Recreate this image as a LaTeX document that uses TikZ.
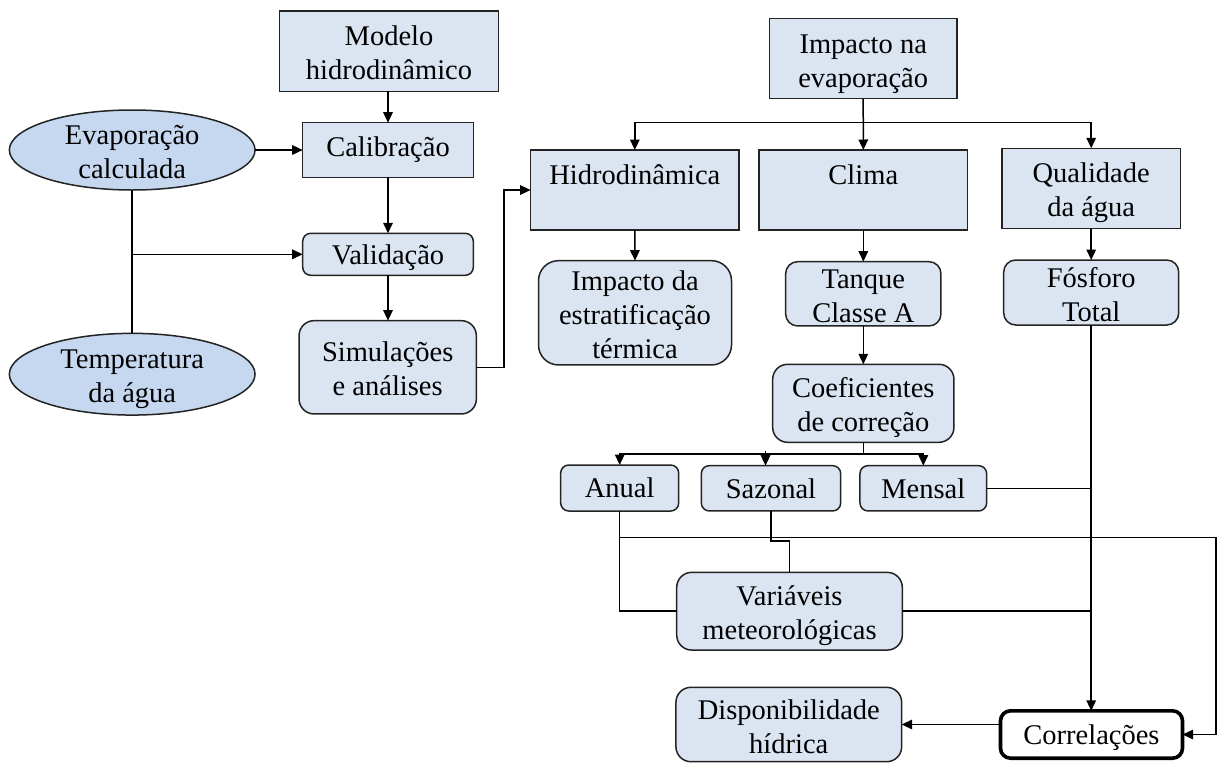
\documentclass[tikz,border=0pt]{standalone}
\usepackage{fontspec}
\setmainfont{Liberation Serif}
\usetikzlibrary{arrows.meta,shapes.geometric}
\definecolor{boxfill}{RGB}{219,228,241}
\definecolor{ellfill}{RGB}{198,216,240}
\definecolor{edgecol}{RGB}{35,35,35}
\newcommand\lnstrut{\rule[-10.2pt]{0pt}{34pt}}
\newcommand\onestrut{\rule[-10.2pt]{0pt}{40pt}}
\newcommand\firststrut{\rule[-10.2pt]{0pt}{43.4pt}}
\begin{document}
\begin{tikzpicture}[x=1pt,y=-1pt,
  every node/.style={font=\fontsize{28.5}{34}\selectfont, inner sep=0pt, outer sep=0pt},
  sqbox/.style={draw=edgecol, line width=1.5pt, fill=boxfill, rectangle},
  rbox/.style={sqbox, rounded corners=#1},
  rbox/.default=10pt,
  ellbox/.style={draw=edgecol, line width=1.5pt, fill=ellfill, ellipse},
  corrbox/.style={draw=black, line width=3.6pt, fill=white, rounded corners=10pt},
  txt/.style={align=center},
  conn/.style={draw=black, line width=1.5pt},
  arr/.style={conn, -{Triangle[length=10.5pt,width=9.5pt]}},
]
\useasboundingbox (0,0) rectangle (1217,763);

% left column
\node[sqbox, minimum width=219.4pt, minimum height=80.3pt] (modelo) at (389,51.2) {};
\node[txt] (modeloT) at (modelo.center) {\firststrut Modelo\\hidrodinâmico\lnstrut};
\node[sqbox, minimum width=170.6pt, minimum height=54.6pt] (calib) at (388,150) {\lnstrut Calibração};
\node[rbox=8pt, minimum width=170.6pt, minimum height=42pt] (valid) at (388,254.3) {\onestrut Validação};
\node[rbox=15pt, minimum width=177.3pt, minimum height=93.3pt] (simul) at (387.7,367.3) {};
\node[txt] (simulT) at (simul.center) {\firststrut Simulações\\e análises\lnstrut};
\node[ellbox, minimum width=245.7pt, minimum height=80pt] (evap) at (132.2,150) {};
\node[txt] (evapT) at (evap.center) {\firststrut Evaporação\\calculada\lnstrut};
\node[ellbox, minimum width=245.7pt, minimum height=81.7pt] (temp) at (132.2,374.2) {};
\node[txt] (tempT) at (temp.center) {\firststrut Temperatura\\da água\lnstrut};

% right part
\node[sqbox, minimum width=208.3pt, minimum height=80pt] (hidro) at (634.8,190) {};
\node[txt] (hidroT) at (hidro.center) {\firststrut Hidrodinâmica\\\lnstrut};
\node[rbox=20pt, minimum width=193pt, minimum height=104.3pt] (impE) at (635,312.8) {};
\node[txt] (impET) at (impE.center) {\firststrut Impacto da\\estratificação\\térmica\lnstrut};
\node[sqbox, minimum width=187.7pt, minimum height=80.4pt] (impN) at (863.2,58.5) {};
\node[txt] (impNT) at (impN.center) {\firststrut Impacto na\\evaporação\lnstrut};
\node[sqbox, minimum width=208.7pt, minimum height=80pt] (clima) at (863.3,190) {};
\node[txt] (climaT) at (clima.center) {\firststrut Clima\\\lnstrut};
\node[sqbox, minimum width=178.3pt, minimum height=80pt] (qual) at (1091.2,188.3) {};
\node[txt] (qualT) at (qual.center) {\firststrut Qualidade\\da água\lnstrut};
\node[rbox=12pt, minimum width=155.3pt, minimum height=64.3pt] (tanque) at (863.3,293.8) {};
\node[txt] (tanqueT) at (tanque.center) {\firststrut Tanque\\Classe A\lnstrut};
\node[rbox=12pt, minimum width=175pt, minimum height=65pt] (fosf) at (1091.2,292.5) {};
\node[txt] (fosfT) at (fosf.center) {\firststrut Fósforo\\Total\lnstrut};
\node[rbox=15pt, minimum width=181.3pt, minimum height=78pt] (coef) at (863.3,403.3) {};
\node[txt] (coefT) at (coef.center) {\firststrut Coeficientes\\de correção\lnstrut};
\node[rbox=8pt, minimum width=118pt, minimum height=46pt] (anual) at (619.7,488) {\onestrut Anual};
\node[rbox=8pt, minimum width=139.4pt, minimum height=45.3pt] (sazonal) at (771,488.3) {\onestrut Sazonal};
\node[rbox=8pt, minimum width=126.7pt, minimum height=45.3pt] (mensal) at (923.3,488.3) {\onestrut Mensal};
\node[rbox=15pt, minimum width=225.6pt, minimum height=77.7pt] (variav) at (789.5,611.2) {};
\node[txt] (variavT) at (variav.center) {\firststrut Variáveis\\meteorológicas\lnstrut};
\node[rbox=15pt, minimum width=225.7pt, minimum height=74.4pt] (dispon) at (788.8,724.5) {};
\node[txt] (disponT) at (dispon.center) {\firststrut Disponibilidade\\hídrica\lnstrut};
\node[corrbox, minimum width=182pt, minimum height=47.4pt] (correl) at (1091.5,734.5) {\onestrut Correlações};

% connectors, left
\draw[arr] (calib.north |- modelo.south) -- (calib.north);
\draw[arr] (calib.south) -- (valid.north);
\draw[arr] (valid.south) -- (valid.south |- simul.north);
\draw[arr] (evap.east) -- (calib.west);
\draw[conn] (evap.south) -- (temp.north);
\coordinate (j1) at (132.2,254.3);
\draw[arr] (j1) -- (valid.west);
\coordinate (s1) at (504,0);
\draw[arr] (simul.east) -| (s1 |- hidro.west) -- (hidro.west);

% connectors, right
\coordinate (bus1) at (863.2,122.7);
\draw[arr] (impN.south) -- (clima.north);
\draw[arr] (bus1) -| (hidro.north);
\draw[arr] (bus1) -| (qual.north);
\draw[arr] (hidro.south) -- (impE.north);
\draw[arr] (clima.south) -- (tanque.north);
\draw[arr] (qual.south) -- (fosf.north);
\draw[arr] (tanque.south) -- (coef.north);
\coordinate (bus2) at (863.3,454);
\draw[conn] (coef.south) -- (bus2);
\draw[arr] (bus2) -| (anual.north);
\draw[arr] (bus2) -| (mensal.north);
\coordinate (sz) at (765.5,451);
\draw[arr] (sz) -- (sz |- sazonal.north);
\draw[conn] (mensal.east) -- (mensal.east -| fosf.south);
\draw[arr] (fosf.south) -- (fosf.south |- correl.north);
\draw[conn] (anual.south) |- (variav.west);
\coordinate (rc) at (1216,537.7);
\draw[arr] (anual.south |- rc) -- (rc) |- (correl.east);
\coordinate (sj) at (771,541);
\draw[conn] (sazonal.south) -- (sj) -| (variav.north);
\draw[conn] (variav.east) -- (variav.east -| fosf.south);
\draw[arr] (dispon.east -| correl.west) -- (dispon.east);
\end{tikzpicture}
\end{document}
